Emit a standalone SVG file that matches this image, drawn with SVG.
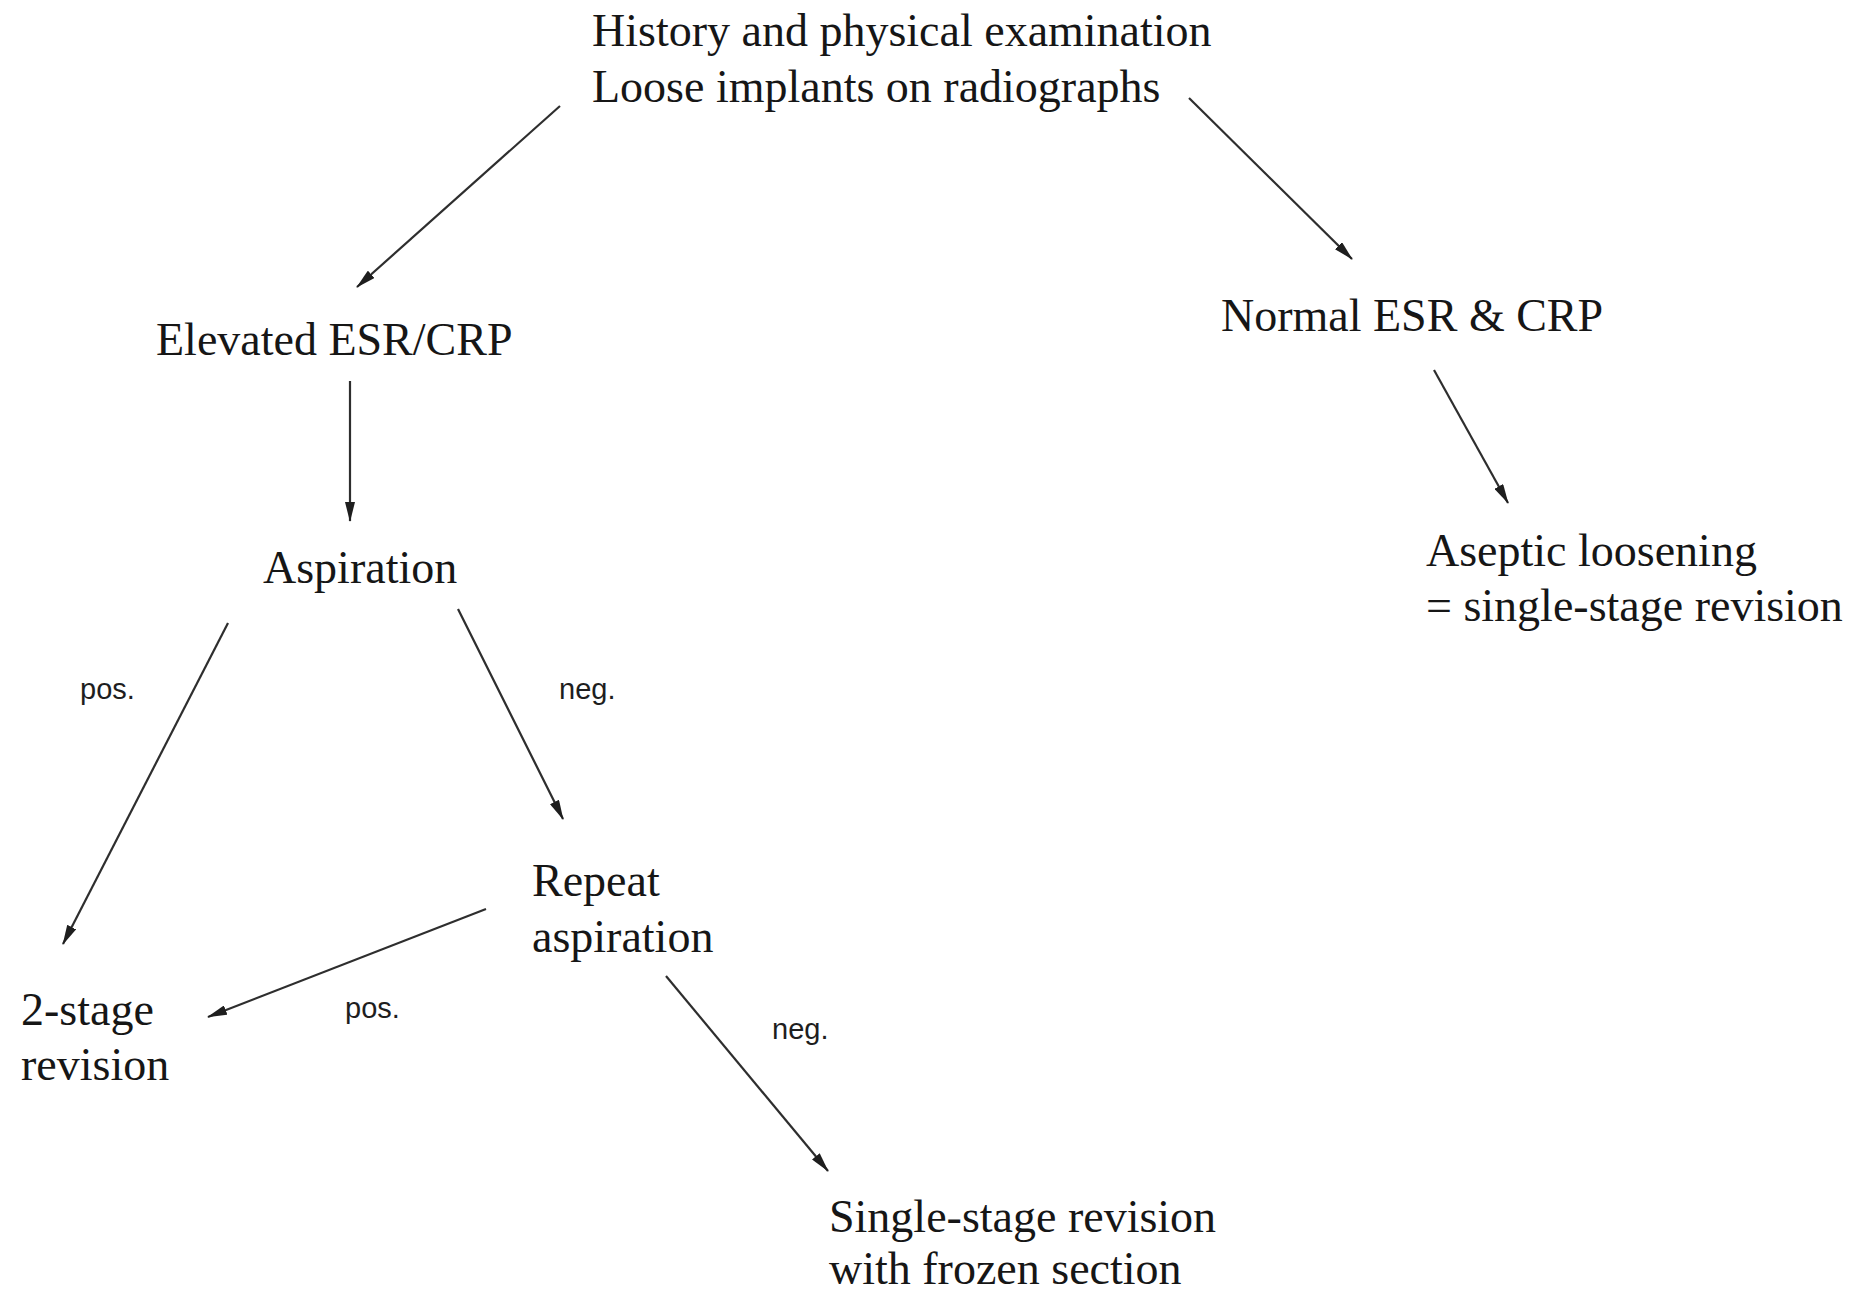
<svg xmlns="http://www.w3.org/2000/svg" width="1855" height="1294" viewBox="0 0 1855 1294">
<style>
.t{font-family:"Liberation Serif","Times New Roman",serif;font-size:46px;fill:#161616}
.l{font-family:"Liberation Sans",Arial,sans-serif;font-size:29px;fill:#1e1e1e}
.c{stroke:#2e2e2e;stroke-width:2.2;fill:none;marker-end:url(#ah)}
</style>
<defs>
<marker id="ah" markerUnits="userSpaceOnUse" markerWidth="20" markerHeight="10" refX="19" refY="5" orient="auto">
<path d="M0,0 L20,5 L0,10 z" fill="#1e1e1e"/>
</marker>
</defs>
<rect width="1855" height="1294" fill="#fff"/>
<g id="connectors">
<line class="c" x1="560" y1="106" x2="357" y2="287"/>
<line class="c" x1="1189" y1="98" x2="1352" y2="259"/>
<line class="c" x1="350" y1="381" x2="350" y2="521"/>
<line class="c" x1="1434" y1="370" x2="1508" y2="503"/>
<line class="c" x1="228" y1="623" x2="63" y2="944"/>
<line class="c" x1="458" y1="609" x2="563" y2="819"/>
<line class="c" x1="486" y1="909" x2="208" y2="1017"/>
<line class="c" x1="666" y1="976" x2="828" y2="1171"/>
<text class="l" x="80" y="699">pos.</text>
<text class="l" x="559" y="699">neg.</text>
<text class="l" x="345" y="1018">pos.</text>
<text class="l" x="772" y="1039">neg.</text>
</g>
<g id="top"><text class="t" x="592" y="46">History and physical examination</text><text class="t" x="592" y="102">Loose implants on radiographs</text></g>
<g id="elevated"><text class="t" x="156" y="355">Elevated ESR/CRP</text></g>
<g id="normal"><text class="t" x="1221" y="331">Normal ESR &amp; CRP</text></g>
<g id="aspiration"><text class="t" x="263" y="583">Aspiration</text></g>
<g id="aseptic"><text class="t" x="1426" y="566">Aseptic loosening</text><text class="t" x="1426" y="621">= single-stage revision</text></g>
<g id="repeat"><text class="t" x="532" y="896">Repeat</text><text class="t" x="532" y="952">aspiration</text></g>
<g id="twostage"><text class="t" x="21" y="1025">2-stage</text><text class="t" x="21" y="1080">revision</text></g>
<g id="single"><text class="t" x="829" y="1232">Single-stage revision</text><text class="t" x="829" y="1284">with frozen section</text></g>
</svg>
